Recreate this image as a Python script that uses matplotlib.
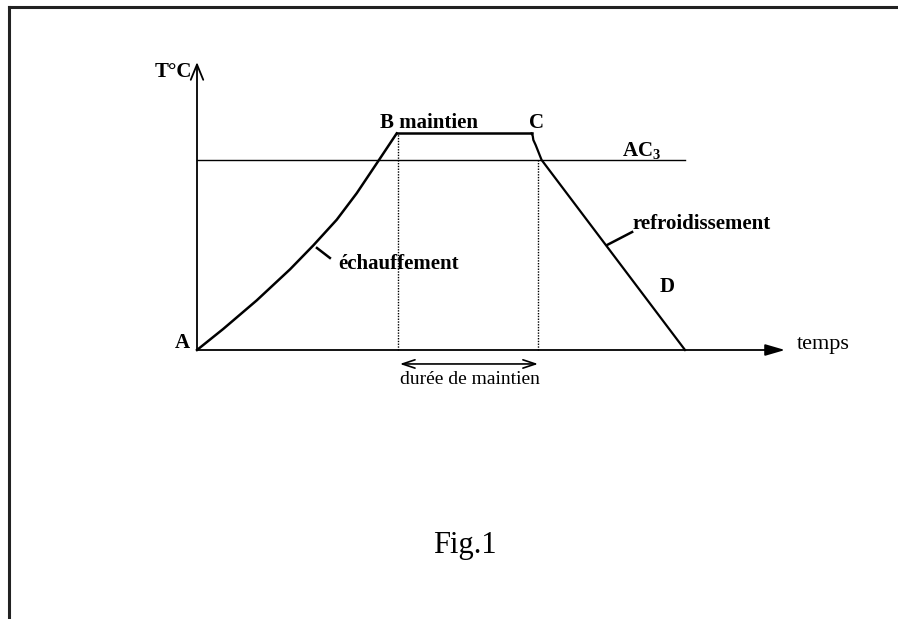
# plot.py
# heat treatment cycle sketch: heating, holding above AC3, cooling
import matplotlib
matplotlib.use('Agg')
import matplotlib.pyplot as plt
from matplotlib.lines import Line2D

plt.rcParams['font.family'] = 'Liberation Serif'
plt.rcParams['mathtext.fontset'] = 'custom'
plt.rcParams['mathtext.rm'] = 'Liberation Serif'
plt.rcParams['mathtext.bf'] = 'Liberation Serif:bold'

# cycle curve (time, temperature) in arbitrary units
heat_t = [0, 4.47, 10.15, 15.82, 19.78, 23.76, 27.16, 30.83, 33.96]
heat_T = [0, 7.4, 17.4, 28.3, 36.7, 45.7, 55.0, 66.3, 76.0]
hold_t = [33.96, 56.9]
hold_T = [76.0, 76.0]
cool_t = [56.9, 57.1, 57.2, 57.6, 58.6, 83.0]
cool_T = [76.0, 75.1, 73.7, 71.9, 66.7, 0]

ac3_T = 66.7
ac3_span = [0, 83.0]
t_B = 34.2
t_C = 58.0
axis_max = 100

fig = plt.figure(figsize=(8.98, 6.19), dpi=100)
fig.patch.set_facecolor('white')

# page frame (top and left edges only)
fig.add_artist(Line2D([9 / 898, 1], [1 - 7 / 619, 1 - 7 / 619],
                      color='#222', linewidth=2.2))
fig.add_artist(Line2D([9 / 898, 9 / 898], [0, 1 - 7 / 619],
                      color='#222', linewidth=2.2))

ax = fig.add_axes([197 / 898, (619 - 350) / 619, 588 / 898, 285 / 619])
ax.set_xlim(0, axis_max)
ax.set_ylim(0, axis_max)
ax.axis('off')

# axes arrows
ax.annotate('', xy=(0, axis_max + 1), xytext=(0, 0),
            arrowprops=dict(arrowstyle='->,head_length=1.1,head_width=0.45',
                            color='black', lw=1.3, shrinkA=0, shrinkB=0),
            annotation_clip=False)
ax.annotate('', xy=(axis_max, 0), xytext=(0, 0),
            arrowprops=dict(arrowstyle='-|>,head_length=1.2,head_width=0.35',
                            color='black', lw=1.3, shrinkA=0, shrinkB=0),
            annotation_clip=False)

# AC3 level
ax.plot(ac3_span, [ac3_T, ac3_T], color='black', linewidth=1.0,
        clip_on=False)

# dotted guides
ax.plot([t_B, t_B], [0, heat_T[-1]], color='black', linewidth=1.0,
        linestyle=(0, (1, 1)), clip_on=False)
ax.plot([t_C, t_C], [0, ac3_T], color='black', linewidth=1.0,
        linestyle=(0, (1, 1)), clip_on=False)

# the cycle
ax.plot(heat_t, heat_T, color='black', linewidth=1.8, clip_on=False,
        solid_joinstyle='round')
ax.plot(hold_t, hold_T, color='black', linewidth=1.8, clip_on=False)
ax.plot(cool_t, cool_T, color='black', linewidth=1.6, clip_on=False,
        solid_joinstyle='round')

# label ticks
ax.plot([20.4, 22.6], [35.8, 32.3], color='black', linewidth=1.8,
        clip_on=False)
ax.plot([69.7, 74.0], [36.8, 41.4], color='black', linewidth=1.8,
        clip_on=False)

# holding duration double arrow
ax.annotate('', xy=(t_B + 0.3, -4.9), xytext=(t_C, -4.9),
            arrowprops=dict(arrowstyle='<->,head_length=0.9,head_width=0.3',
                            color='black', lw=1.2, shrinkA=0, shrinkB=0),
            annotation_clip=False)

lab = dict(fontsize=15, fontweight='bold', color='black')
ax.text(-0.9, 97.5, 'T°C', ha='right', va='center', **lab)
ax.text(-1.2, 2.5, 'A', ha='right', va='center', **lab)
ax.text(31.1, 77.9, 'B maintien', ha='left', va='baseline', **lab)
ax.text(56.5, 77.9, 'C', ha='left', va='baseline', **lab)
ax.text(72.3, 67.9, r'AC$_{\mathbf{3}}$', ha='left', va='baseline', **lab)
ax.text(74.1, 44.2, 'refroidissement', ha='left', va='center', **lab)
ax.text(24.0, 30.2, 'échauffement', ha='left', va='center', **lab)
ax.text(78.7, 22.1, 'D', ha='left', va='center', **lab)
ax.text(102.0, 2.0, 'temps', ha='left', va='center', fontsize=16,
        color='black')
ax.text(46.4, -10.5, 'durée de maintien', ha='center', va='center',
        fontsize=14, color='black')

fig.text(465 / 898, 1 - 546 / 619, 'Fig.1', ha='center', va='center',
         fontsize=22, color='black')

fig.savefig('out.png', dpi=100, facecolor='white')
plt.close(fig)
